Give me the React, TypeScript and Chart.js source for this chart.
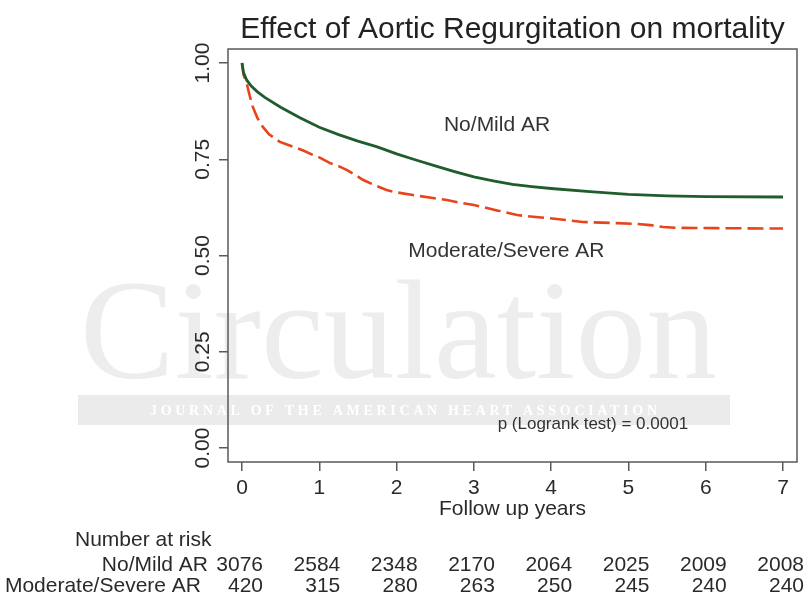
import React, { useEffect, useRef } from 'react';
import { Chart, registerables } from 'chart.js';

Chart.register(...registerables);

const chartTitle = 'Effect of Aortic Regurgitation on mortality';
const xAxisTitle = 'Follow up years';
const xTickValues = [0, 1, 2, 3, 4, 5, 6, 7];
const yTickValues = [0, 0.25, 0.5, 0.75, 1];
const groupNames = ['No/Mild AR', 'Moderate/Severe AR'];

const noMildYears = [0, 0.02, 0.06, 0.12, 0.2, 0.3, 0.5, 0.75, 1.0, 1.25, 1.5, 1.75, 2.0, 2.25, 2.5, 2.75, 3.0, 3.25, 3.5, 3.75, 4.0, 4.5, 5.0, 5.5, 6.0, 7.0];
const noMildSurv = [1.0, 0.975, 0.956, 0.94, 0.925, 0.91, 0.885, 0.858, 0.833, 0.814, 0.797, 0.782, 0.764, 0.748, 0.733, 0.718, 0.704, 0.694, 0.685, 0.679, 0.674, 0.666, 0.659, 0.655, 0.653, 0.652];

const modSevYears = [0, 0.02, 0.06, 0.1, 0.14, 0.2, 0.27, 0.35, 0.49, 0.6, 0.71, 0.8, 0.92, 1.0, 1.14, 1.25, 1.36, 1.5, 1.57, 1.7, 1.87, 2.0, 2.21, 2.45, 2.65, 2.8, 3.0, 3.12, 3.3, 3.56, 3.8, 3.98, 4.2, 4.41, 4.85, 5.1, 5.28, 5.45, 5.6, 6.14, 7.0];
const modSevSurv = [1.0, 0.97, 0.948, 0.915, 0.886, 0.857, 0.834, 0.815, 0.795, 0.787, 0.779, 0.772, 0.761, 0.755, 0.74, 0.732, 0.722, 0.705, 0.696, 0.684, 0.67, 0.664, 0.657, 0.65, 0.644, 0.638, 0.631, 0.626, 0.617, 0.605, 0.6, 0.597, 0.592, 0.587, 0.584, 0.582, 0.579, 0.574, 0.572, 0.571, 0.57];

const atRiskTitle = 'Number at risk';
const atRiskNoMild = [3076, 2584, 2348, 2170, 2064, 2025, 2009, 2008];
const atRiskModSev = [420, 315, 280, 263, 250, 245, 240, 240];
const pValueText = 'p (Logrank test) = 0.0001';

const W = 809;
const H = 598;
const SANS = '"Liberation Sans", Arial, sans-serif';
const SERIF = '"Liberation Serif", "Times New Roman", serif';
const TEXT = '#2a2a2a';
const AXIS = '#5a5a5a';

const decorPlugin = {
  id: 'decor',
  beforeDraw(chart: any) {
    const ctx = chart.ctx;
    ctx.save();
    ctx.fillStyle = '#ffffff';
    ctx.fillRect(0, 0, W, H);
    // watermark band
    ctx.fillStyle = '#ebebeb';
    ctx.fillRect(78, 395, 652, 30);
    const band = 'JOURNAL OF THE AMERICAN HEART ASSOCIATION';
    ctx.font = `bold 14px ${SERIF}`;
    const w0 = ctx.measureText(band).width;
    const sp = Math.max(0, (507 - w0) / (band.length - 1));
    (ctx as any).letterSpacing = `${sp}px`;
    ctx.fillStyle = '#ffffff';
    ctx.textAlign = 'left';
    ctx.textBaseline = 'middle';
    ctx.fillText(band, 150, 411);
    (ctx as any).letterSpacing = '0px';
    // watermark word
    ctx.font = `150px ${SERIF}`;
    const ww = ctx.measureText('Circulation').width;
    const size = (150 * 637) / ww;
    ctx.font = `${size}px ${SERIF}`;
    ctx.fillStyle = '#ededed';
    ctx.textBaseline = 'alphabetic';
    ctx.fillText('Circulation', 80, 378);
    ctx.restore();
  },
  afterDraw(chart: any) {
    const ctx = chart.ctx;
    const a = chart.chartArea;
    const xs = chart.scales.x;
    const ys = chart.scales.y;
    ctx.save();
    // frame
    ctx.strokeStyle = AXIS;
    ctx.lineWidth = 1.5;
    ctx.strokeRect(a.left, a.top, a.right - a.left, a.bottom - a.top);
    // rotated y tick labels
    ctx.fillStyle = TEXT;
    ctx.font = `21px ${SANS}`;
    ctx.textAlign = 'center';
    ctx.textBaseline = 'middle';
    yTickValues.forEach((v) => {
      const py = ys.getPixelForValue(v);
      ctx.save();
      ctx.translate(203, py);
      ctx.rotate(-Math.PI / 2);
      ctx.fillText(v.toFixed(2), 0, 0);
      ctx.restore();
    });
    // in-plot annotations
    ctx.fillStyle = '#333333';
    ctx.font = `21px ${SANS}`;
    ctx.fillText(groupNames[0], xs.getPixelForValue(3.3), ys.getPixelForValue(0.839));
    ctx.fillText(groupNames[1], xs.getPixelForValue(3.42), ys.getPixelForValue(0.512));
    ctx.font = `17px ${SANS}`;
    ctx.fillText(pValueText, xs.getPixelForValue(4.54), ys.getPixelForValue(0.062));
    // number at risk table
    ctx.fillStyle = TEXT;
    ctx.font = `21px ${SANS}`;
    ctx.textAlign = 'left';
    ctx.fillText(atRiskTitle, 75, 540);
    ctx.textAlign = 'right';
    ctx.fillText(groupNames[0], 208, 565);
    ctx.fillText(groupNames[1], 201, 586);
    xTickValues.forEach((t, i) => {
      const px = xs.getPixelForValue(t) + 21;
      ctx.fillText(String(atRiskNoMild[i]), px, 565);
      ctx.fillText(String(atRiskModSev[i]), px, 586);
    });
    ctx.restore();
  },
};

export default function App() {
  const ref = useRef<HTMLCanvasElement | null>(null);
  useEffect(() => {
    if (!ref.current) return;
    const chart = new Chart(ref.current, {
      type: 'line',
      data: {
        datasets: [
          {
            label: groupNames[0],
            data: noMildYears.map((t, i) => ({ x: t, y: noMildSurv[i] })),
            borderColor: '#1f5d2c',
            borderWidth: 2.8,
            pointRadius: 0,
            tension: 0,
            fill: false,
          },
          {
            label: groupNames[1],
            data: modSevYears.map((t, i) => ({ x: t, y: modSevSurv[i] })),
            borderColor: '#e8431c',
            borderWidth: 2.6,
            borderDash: [16, 6],
            pointRadius: 0,
            tension: 0,
            fill: false,
          },
        ],
      },
      options: {
        responsive: false,
        animation: false,
        devicePixelRatio: 1,
        layout: { padding: { left: 0, right: 12, top: 0, bottom: 76 } },
        plugins: {
          legend: { display: false },
          tooltip: { enabled: false },
          title: {
            display: true,
            text: chartTitle,
            fullSize: false,
            color: '#222222',
            font: { family: SANS, size: 30, weight: 'normal' },
            padding: { top: 12, bottom: 1 },
          },
        },
        scales: {
          x: {
            type: 'linear',
            min: -0.181,
            max: 7.181,
            afterBuildTicks: (s: any) => {
              s.ticks = xTickValues.map((v) => ({ value: v }));
            },
            afterFit: (s: any) => {
              s.height = 60;
            },
            grid: { drawOnChartArea: false, drawTicks: true, tickLength: 9, color: AXIS, lineWidth: 1.5 },
            border: { display: false },
            ticks: {
              color: TEXT,
              font: { family: SANS, size: 21 },
              padding: 5,
              maxRotation: 0,
              autoSkip: false,
              callback: (v: any) => String(v),
            },
            title: {
              display: true,
              text: xAxisTitle,
              color: TEXT,
              font: { family: SANS, size: 21 },
              padding: { top: 0, bottom: 0 },
            },
          },
          y: {
            type: 'linear',
            min: -0.0364,
            max: 1.0364,
            afterBuildTicks: (s: any) => {
              s.ticks = yTickValues.map((v) => ({ value: v }));
            },
            afterFit: (s: any) => {
              s.width = 228;
            },
            grid: { drawOnChartArea: false, drawTicks: true, tickLength: 9, color: AXIS, lineWidth: 1.5 },
            border: { display: false },
            ticks: { display: false },
          },
        },
      } as any,
      plugins: [decorPlugin],
    });
    return () => chart.destroy();
  }, []);
  return (
    <div style={{ position: 'absolute', left: 0, top: 0, width: W, height: H }}>
      <canvas ref={ref} width={W} height={H} style={{ display: 'block', width: W, height: H }} />
    </div>
  );
}
